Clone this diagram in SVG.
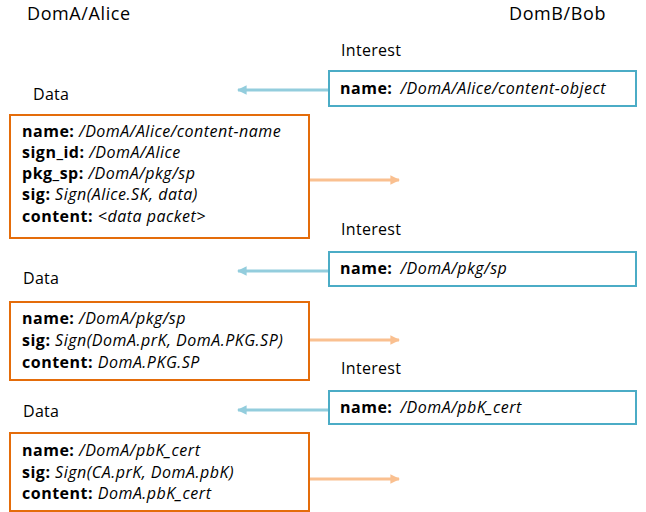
<svg xmlns="http://www.w3.org/2000/svg" width="646" height="512" viewBox="0 0 646 512">
<style>
text{font-family:"Open Sans","Liberation Sans",sans-serif;fill:#000}
.title{font-size:18px;letter-spacing:0.6px}
.lbl{font-size:16px;letter-spacing:0.3px}
.t{font-size:16px;letter-spacing:0.5px}
.b{font-weight:bold}
.i{font-style:italic}
.data{fill:#fff;stroke:#E46C0A;stroke-width:2}
.int{fill:#fff;stroke:#4BACC6;stroke-width:2}
.blue{stroke:#93CDDD;stroke-width:3;fill:none}
.orange{stroke:#FAC090;stroke-width:3;fill:none}
</style>
<defs>
<marker id="ab" viewBox="0 0 10 10" refX="9" refY="5" markerWidth="4" markerHeight="3.2" orient="auto" markerUnits="strokeWidth"><path d="M0,0L10,5L0,10z" fill="#93CDDD"/></marker>
<marker id="ao" viewBox="0 0 10 10" refX="9" refY="5" markerWidth="4" markerHeight="3.2" orient="auto" markerUnits="strokeWidth"><path d="M0,0L10,5L0,10z" fill="#FAC090"/></marker>
</defs>
<g id="titles">
<text class="title" x="27" y="20">DomA/Alice</text>
<text class="title" x="509" y="20">DomB/Bob</text>
</g>
<g id="connectors">
<line class="blue" x1="328" y1="90" x2="238" y2="90" marker-end="url(#ab)"/>
<line class="orange" x1="310" y1="180" x2="399" y2="180" marker-end="url(#ao)"/>
<line class="blue" x1="328" y1="271" x2="238" y2="271" marker-end="url(#ab)"/>
<line class="orange" x1="310" y1="340" x2="399" y2="340" marker-end="url(#ao)"/>
<line class="blue" x1="328" y1="410" x2="238" y2="410" marker-end="url(#ab)"/>
<line class="orange" x1="310" y1="479" x2="399" y2="479" marker-end="url(#ao)"/>
</g>
<g id="interest1">
<text class="lbl" x="341" y="56">Interest</text>
<rect class="int" x="329" y="71" width="307" height="35"/>
<text class="t" x="340" y="94"><tspan class="b">name:</tspan><tspan class="i" dx="8">/DomA/Alice/content-object</tspan></text>
</g>
<g id="data1">
<text class="lbl" x="33" y="100">Data</text>
<rect class="data" x="10" y="115" width="299" height="123"/>
<text class="t" x="22" y="137"><tspan class="b">name:</tspan> <tspan class="i">/DomA/Alice/content-name</tspan></text>
<text class="t" x="22" y="158"><tspan class="b">sign_id:</tspan> <tspan class="i">/DomA/Alice</tspan></text>
<text class="t" x="22" y="179"><tspan class="b">pkg_sp:</tspan> <tspan class="i">/DomA/pkg/sp</tspan></text>
<text class="t" x="22" y="200"><tspan class="b">sig:</tspan> <tspan class="i">Sign(Alice.SK, data)</tspan></text>
<text class="t" x="22" y="222"><tspan class="b">content:</tspan> <tspan class="i">&lt;data packet&gt;</tspan></text>
</g>
<g id="interest2">
<text class="lbl" x="341" y="235">Interest</text>
<rect class="int" x="329" y="252" width="307" height="34"/>
<text class="t" x="340" y="274"><tspan class="b">name:</tspan><tspan class="i" dx="8">/DomA/pkg/sp</tspan></text>
</g>
<g id="data2">
<text class="lbl" x="23" y="284">Data</text>
<rect class="data" x="10" y="302" width="299" height="78"/>
<text class="t" x="22" y="324"><tspan class="b">name:</tspan> <tspan class="i">/DomA/pkg/sp</tspan></text>
<text class="t" x="22" y="346"><tspan class="b">sig:</tspan> <tspan class="i">Sign(DomA.prK, DomA.PKG.SP)</tspan></text>
<text class="t" x="22" y="368"><tspan class="b">content:</tspan> <tspan class="i">DomA.PKG.SP</tspan></text>
</g>
<g id="interest3">
<text class="lbl" x="341" y="374">Interest</text>
<rect class="int" x="329" y="391" width="307" height="33"/>
<text class="t" x="340" y="413"><tspan class="b">name:</tspan><tspan class="i" dx="8">/DomA/pbK_cert</tspan></text>
</g>
<g id="data3">
<text class="lbl" x="23" y="417">Data</text>
<rect class="data" x="10" y="433" width="299" height="78"/>
<text class="t" x="22" y="456"><tspan class="b">name:</tspan> <tspan class="i">/DomA/pbK_cert</tspan></text>
<text class="t" x="22" y="478"><tspan class="b">sig:</tspan> <tspan class="i">Sign(CA.prK, DomA.pbK)</tspan></text>
<text class="t" x="22" y="499"><tspan class="b">content:</tspan> <tspan class="i">DomA.pbK_cert</tspan></text>
</g>
</svg>
